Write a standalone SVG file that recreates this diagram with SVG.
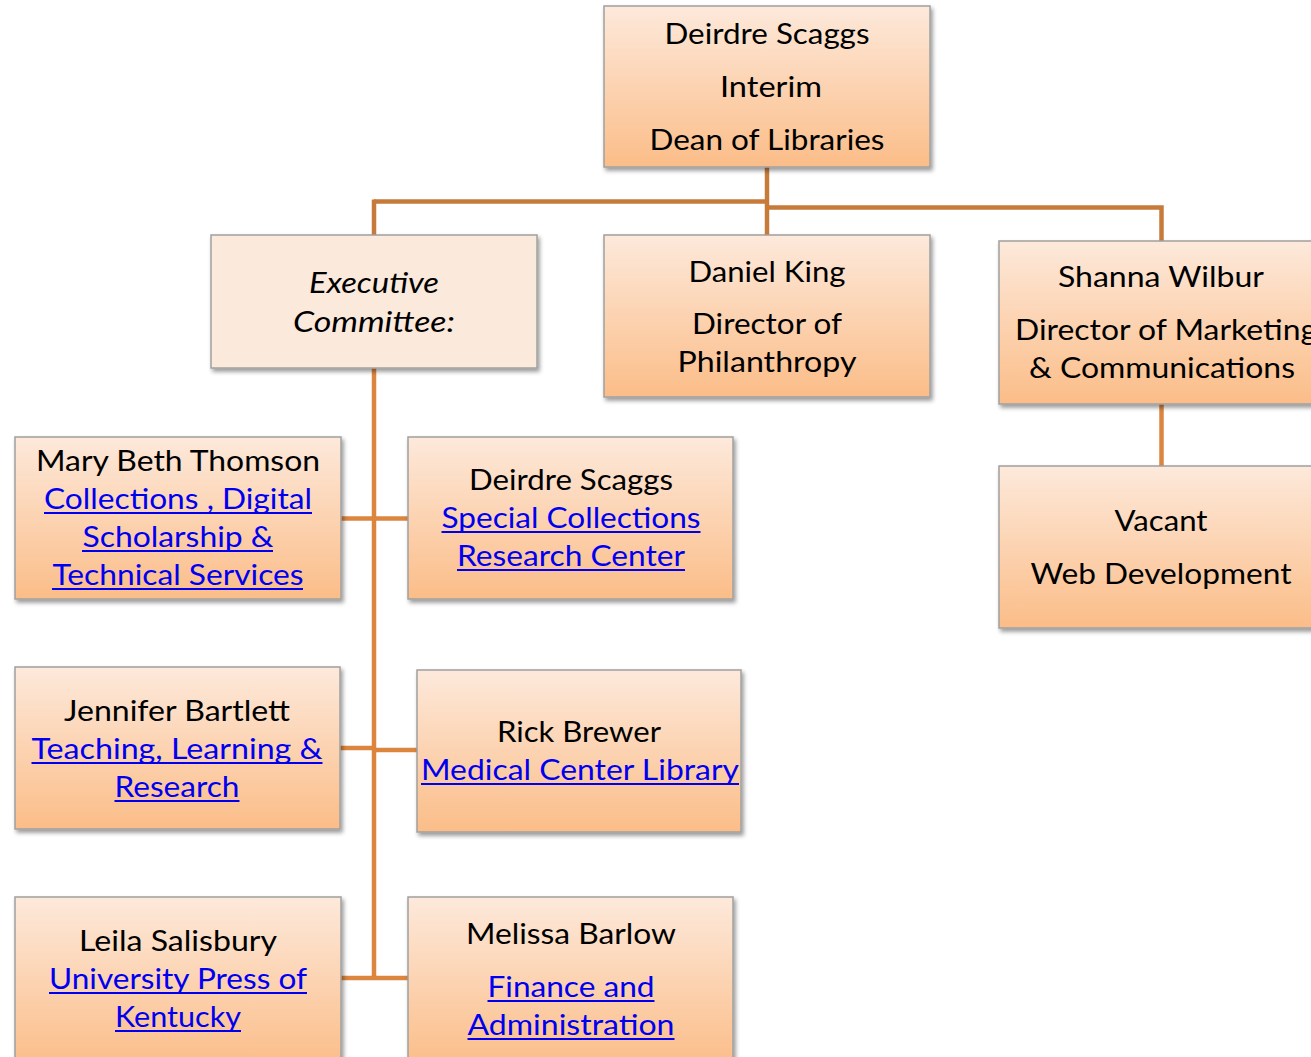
<svg xmlns="http://www.w3.org/2000/svg" width="1311" height="1057" viewBox="0 0 1311 1057">
<defs>
<linearGradient id="g" x1="0" y1="0" x2="0" y2="1">
<stop offset="0" stop-color="#fde9db"/>
<stop offset="1" stop-color="#fbbd88"/>
</linearGradient>
<filter id="sh" x="-10%" y="-10%" width="125%" height="130%">
<feDropShadow dx="2" dy="3" stdDeviation="2" flood-color="#000" flood-opacity="0.4"/>
</filter>
</defs>
<style>
.box{fill:url(#g);stroke:#a0a0a0;stroke-width:1.5;filter:url(#sh)}
.exec{fill:#fbe9db;stroke:#a0a0a0;stroke-width:1.5;filter:url(#sh)}
text{font-family:Lato,"Liberation Sans",sans-serif;font-size:28px;fill:#000;text-anchor:middle}
.l{fill:#0000f0}
.u{stroke:#0000f0;stroke-width:2;fill:none}
.i{font-style:italic}
.c1{stroke:#c67b3b;stroke-width:4.5;fill:none}
.c2{stroke:#db853f;stroke-width:4.5;fill:none}
</style>
<rect width="1311" height="1057" fill="#fff"/>
<g id="connectors">
<path class="c1" d="M767 167 V235"/>
<path class="c1" d="M374 201.5 H767"/>
<path class="c1" d="M374 199.5 V235"/>
<path class="c1" d="M767 207.5 H1161.5 V242"/>
<path class="c2" d="M1161.5 404 V467"/>
<path class="c2" d="M374 368 V980"/>
<path class="c2" d="M341 518.5 H408"/>
<path class="c2" d="M340 748 H374"/>
<path class="c2" d="M374 750 H417"/>
<path class="c2" d="M341 978 H408"/>
</g>
<g id="dean">
<rect class="box" x="604" y="6" width="326" height="161"/>
<text x="767" y="44" textLength="205" lengthAdjust="spacingAndGlyphs">Deirdre Scaggs</text>
<text x="771" y="97" textLength="102" lengthAdjust="spacingAndGlyphs">Interim</text>
<text x="767" y="150" textLength="235" lengthAdjust="spacingAndGlyphs">Dean of Libraries</text>
</g>
<g id="executive">
<rect class="exec" x="211" y="235" width="326" height="133"/>
<text class="i" x="374" y="293" textLength="130" lengthAdjust="spacingAndGlyphs">Executive</text>
<text class="i" x="374" y="332" textLength="162" lengthAdjust="spacingAndGlyphs">Committee:</text>
</g>
<g id="king">
<rect class="box" x="604" y="235" width="326" height="162"/>
<text x="767" y="282" textLength="157" lengthAdjust="spacingAndGlyphs">Daniel King</text>
<text x="767" y="334" textLength="150" lengthAdjust="spacingAndGlyphs">Director of</text>
<text x="767" y="372" textLength="179" lengthAdjust="spacingAndGlyphs">Philanthropy</text>
</g>
<g id="wilbur">
<rect class="box" x="999" y="241" width="326" height="163"/>
<text x="1161" y="287" textLength="206" lengthAdjust="spacingAndGlyphs">Shanna Wilbur</text>
<text x="1166" y="340" textLength="302" lengthAdjust="spacingAndGlyphs">Director of Marketing</text>
<text x="1162" y="378" textLength="266" lengthAdjust="spacingAndGlyphs">&amp; Communications</text>
</g>
<g id="vacant">
<rect class="box" x="999" y="466" width="326" height="162"/>
<text x="1161" y="531" textLength="93" lengthAdjust="spacingAndGlyphs">Vacant</text>
<text x="1161" y="584" textLength="261" lengthAdjust="spacingAndGlyphs">Web Development</text>
</g>
<g id="thomson">
<rect class="box" x="15" y="437" width="326" height="162"/>
<text x="178" y="471" textLength="284" lengthAdjust="spacingAndGlyphs">Mary Beth Thomson</text>
<text class="l" x="178" y="509" textLength="268" lengthAdjust="spacingAndGlyphs">Collections , Digital</text>
<path class="u" d="M44 513 H312"/>
<text class="l" x="178" y="547" textLength="191" lengthAdjust="spacingAndGlyphs">Scholarship &amp;</text>
<path class="u" d="M82 551 H273"/>
<text class="l" x="178" y="585" textLength="251" lengthAdjust="spacingAndGlyphs">Technical Services</text>
<path class="u" d="M52 589 H303"/>
</g>
<g id="scaggs-sc">
<rect class="box" x="408" y="437" width="325" height="162"/>
<text x="571" y="490" textLength="204" lengthAdjust="spacingAndGlyphs">Deirdre Scaggs</text>
<text class="l" x="571" y="528" textLength="259" lengthAdjust="spacingAndGlyphs">Special Collections</text>
<path class="u" d="M441.5 532 H700.5"/>
<text class="l" x="571" y="566" textLength="228" lengthAdjust="spacingAndGlyphs">Research Center</text>
<path class="u" d="M457 570 H685"/>
</g>
<g id="bartlett">
<rect class="box" x="15" y="667" width="325" height="162"/>
<text x="177" y="721" textLength="226" lengthAdjust="spacingAndGlyphs">Jennifer Bartlett</text>
<text class="l" x="177" y="759" textLength="291" lengthAdjust="spacingAndGlyphs">Teaching, Learning &amp;</text>
<path class="u" d="M31.5 763 H322.5"/>
<text class="l" x="177" y="797" textLength="125" lengthAdjust="spacingAndGlyphs">Research</text>
<path class="u" d="M114.5 801 H239.5"/>
</g>
<g id="brewer">
<rect class="box" x="417" y="670" width="324" height="162"/>
<text x="579" y="742" textLength="164" lengthAdjust="spacingAndGlyphs">Rick Brewer</text>
<text class="l" x="580" y="780" textLength="318" lengthAdjust="spacingAndGlyphs">Medical Center Library</text>
<path class="u" d="M421 784 H739"/>
</g>
<g id="salisbury">
<rect class="box" x="15" y="897" width="326" height="170"/>
<text x="178" y="951" textLength="198" lengthAdjust="spacingAndGlyphs">Leila Salisbury</text>
<text class="l" x="178" y="989" textLength="258" lengthAdjust="spacingAndGlyphs">University Press of</text>
<path class="u" d="M49 993 H307"/>
<text class="l" x="178" y="1027" textLength="126" lengthAdjust="spacingAndGlyphs">Kentucky</text>
<path class="u" d="M115 1031 H241"/>
</g>
<g id="barlow">
<rect class="box" x="408" y="897" width="325" height="170"/>
<text x="571" y="944" textLength="210" lengthAdjust="spacingAndGlyphs">Melissa Barlow</text>
<text class="l" x="571" y="997" textLength="167" lengthAdjust="spacingAndGlyphs">Finance and</text>
<path class="u" d="M487.5 1001 H654.5"/>
<text class="l" x="571" y="1035" textLength="207" lengthAdjust="spacingAndGlyphs">Administration</text>
<path class="u" d="M467.5 1039 H674.5"/>
</g>
</svg>
